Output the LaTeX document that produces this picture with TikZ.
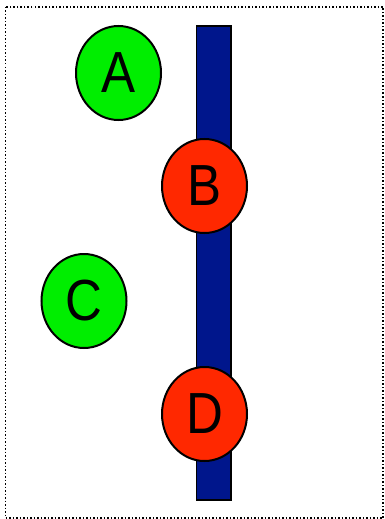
\documentclass[tikz,border=0pt]{standalone}
\usepackage{fontspec}
\setmainfont{Liberation Sans}
\usetikzlibrary{shapes.geometric}
\definecolor{ballgreen}{RGB}{0,238,0}
\definecolor{ballred}{RGB}{255,40,0}
\definecolor{barblue}{RGB}{0,22,140}
\newcommand{\balltext}[1]{\scalebox{0.88}[1]{#1}}

\begin{document}
\begin{tikzpicture}[x=1pt, y=-1pt,
	ball/.style={ellipse, draw=black, line width=2pt, minimum width=85pt, minimum height=94pt, inner sep=0pt, font=\fontsize{58}{58}\selectfont}]
			%%%%% START %%%%%
			\useasboundingbox (0, 0) rectangle (385, 519);
			
			\draw[dotted, line width=1.5pt] (5.5, 7) rectangle (383, 518);
			
			\draw[fill=barblue, line width=1.2pt] (196.5, 26) rectangle (231, 500);
			
			\node[ball, fill=ballgreen] (a) at (118.5, 73) {\balltext{A}};
			\node[ball, fill=ballred] (b) at (204.5, 186) {\balltext{B}};
			\node[ball, fill=ballgreen] (c) at (84, 301) {\balltext{C}};
			\node[ball, fill=ballred] (d) at (204.5, 414) {\balltext{D}};
			
			%%%%% END %%%%%
\end{tikzpicture}
\end{document}
